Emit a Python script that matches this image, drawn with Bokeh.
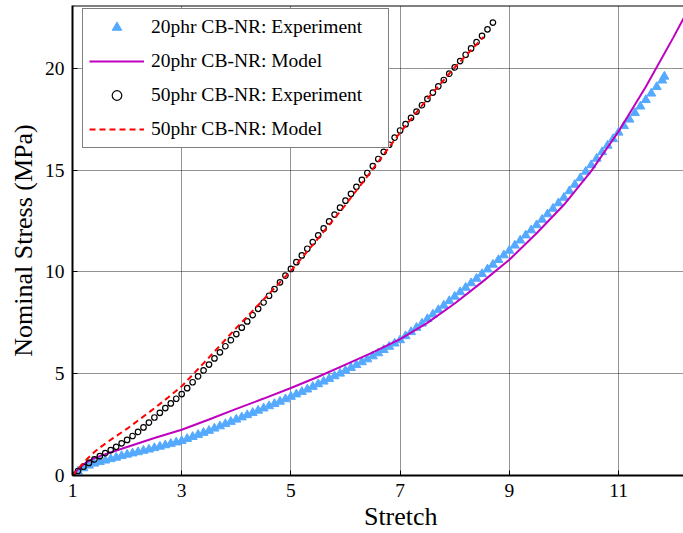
from bokeh.plotting import figure
from bokeh.models import Range1d, FixedTicker, Legend, LegendItem, Span
from bokeh.embed import file_html
from bokeh.resources import INLINE

# ---- data ----
exp20_x = [1.0, 1.1, 1.2, 1.3, 1.4, 1.5, 1.6, 1.7, 1.8, 1.9,
           2.0, 2.1, 2.2, 2.3, 2.4, 2.5, 2.6, 2.7, 2.8, 2.9,
           3.0, 3.1, 3.2, 3.3, 3.4, 3.5, 3.6, 3.7, 3.8, 3.9,
           4.0, 4.1, 4.2, 4.3, 4.4, 4.5, 4.6, 4.7, 4.8, 4.9,
           5.0, 5.1, 5.2, 5.3, 5.4, 5.5, 5.6, 5.7, 5.8, 5.9,
           6.0, 6.1, 6.2, 6.3, 6.4, 6.5, 6.6, 6.7, 6.8, 6.9,
           7.0, 7.1, 7.2, 7.3, 7.4, 7.5, 7.6, 7.7, 7.8, 7.9,
           8.0, 8.1, 8.2, 8.3, 8.4, 8.5, 8.6, 8.7, 8.8, 8.9,
           9.0, 9.1, 9.2, 9.3, 9.4, 9.5, 9.6, 9.7, 9.8, 9.9,
           10.0, 10.1, 10.2, 10.3, 10.4, 10.5, 10.6, 10.7, 10.8, 10.9,
           11.0, 11.1, 11.2, 11.3, 11.4, 11.5, 11.6, 11.7, 11.8, 11.84]
exp20_y = [0.00, 0.20, 0.36, 0.49, 0.59, 0.67, 0.74, 0.81, 0.88, 0.96,
           1.03, 1.09, 1.15, 1.22, 1.28, 1.35, 1.42, 1.49, 1.56, 1.63,
           1.70, 1.80, 1.90, 2.00, 2.10, 2.20, 2.31, 2.42, 2.53, 2.64,
           2.75, 2.86, 2.97, 3.08, 3.19, 3.30, 3.41, 3.52, 3.63, 3.75,
           3.87, 3.99, 4.11, 4.23, 4.36, 4.49, 4.62, 4.75, 4.88, 5.01,
           5.15, 5.29, 5.43, 5.57, 5.71, 5.86, 6.01, 6.17, 6.33, 6.49,
           6.65, 6.85, 7.05, 7.26, 7.47, 7.69, 7.91, 8.13, 8.35, 8.57,
           8.79, 9.01, 9.23, 9.45, 9.67, 9.90, 10.13, 10.36, 10.59, 10.82,
           11.05, 11.30, 11.55, 11.80, 12.05, 12.30, 12.57, 12.84, 13.11, 13.38,
           13.65, 13.97, 14.29, 14.61, 14.93, 15.25, 15.57, 15.89, 16.21, 16.53,
           16.85, 17.17, 17.49, 17.81, 18.13, 18.45, 18.77, 19.09, 19.41, 19.60]

model20_x = [1.0, 1.1, 1.2, 1.3, 1.4, 1.5, 1.75, 2.0, 2.5, 3.0, 3.5, 4.0, 4.5,
             5.0, 5.5, 6.0, 6.5, 7.0, 7.5, 8.0, 8.5, 9.0, 9.5, 10.0, 10.5,
             11.0, 11.5, 12.0, 12.25]
model20_y = [0.0, 0.30, 0.54, 0.72, 0.85, 0.95, 1.18, 1.40, 1.84, 2.25, 2.75, 3.27, 3.78,
             4.30, 4.85, 5.45, 6.05, 6.70, 7.50, 8.45, 9.50, 10.60, 11.90, 13.30, 14.95,
             16.90, 19.10, 21.50, 22.75]

exp50_x = [1.0, 1.1, 1.2, 1.3, 1.4, 1.5, 1.6, 1.7, 1.8, 1.9,
           2.0, 2.1, 2.2, 2.3, 2.4, 2.5, 2.6, 2.7, 2.8, 2.9,
           3.0, 3.1, 3.2, 3.3, 3.4, 3.5, 3.6, 3.7, 3.8, 3.9,
           4.0, 4.1, 4.2, 4.3, 4.4, 4.5, 4.6, 4.7, 4.8, 4.9,
           5.0, 5.1, 5.2, 5.3, 5.4, 5.5, 5.6, 5.7, 5.8, 5.9,
           6.0, 6.1, 6.2, 6.3, 6.4, 6.5, 6.6, 6.7, 6.8, 6.9,
           7.0, 7.1, 7.2, 7.3, 7.4, 7.5, 7.6, 7.7, 7.8, 7.9,
           8.0, 8.1, 8.2, 8.3, 8.4, 8.5, 8.6, 8.7]
exp50_y = [0.00, 0.22, 0.43, 0.62, 0.79, 0.95, 1.10, 1.25, 1.41, 1.58,
           1.75, 1.94, 2.14, 2.36, 2.60, 2.85, 3.08, 3.31, 3.54, 3.77,
           4.00, 4.29, 4.58, 4.87, 5.16, 5.45, 5.75, 6.05, 6.35, 6.65,
           6.95, 7.26, 7.57, 7.88, 8.19, 8.50, 8.83, 9.16, 9.49, 9.82,
           10.15, 10.48, 10.81, 11.14, 11.47, 11.80, 12.14, 12.48, 12.82, 13.16,
           13.50, 13.84, 14.18, 14.52, 14.86, 15.20, 15.55, 15.90, 16.25, 16.60,
           16.95, 17.26, 17.57, 17.88, 18.19, 18.50, 18.81, 19.12, 19.43, 19.74,
           20.05, 20.36, 20.67, 20.98, 21.29, 21.60, 21.92, 22.25]

model50_x = [1.0, 1.1, 1.2, 1.3, 1.4, 1.5, 1.75, 2.0, 2.25, 2.5, 2.75, 3.0, 3.5,
             4.0, 4.5, 5.0, 5.5, 6.0, 6.5, 7.0, 7.5, 8.0, 8.53]
model50_y = [0.0, 0.32, 0.62, 0.90, 1.15, 1.37, 1.85, 2.30, 2.80, 3.30, 3.83, 4.38, 5.80,
             7.25, 8.65, 10.05, 11.65, 13.30, 15.05, 16.85, 18.50, 20.05, 21.55]

x_ticks = [1, 3, 5, 7, 9, 11]
y_ticks = [0, 5, 10, 15, 20]
labels = ["20phr CB-NR: Experiment", "20phr CB-NR: Model",
          "50phr CB-NR: Experiment", "50phr CB-NR: Model"]

FONT = "Liberation Serif"
X_END = 12.19
Y_END = 23.09
BLUE = "#55aaff"

p = figure(width=683, height=533, output_backend="svg", toolbar_location=None,
           x_range=Range1d(1, X_END), y_range=Range1d(0, Y_END),
           min_border_left=72, min_border_right=0, min_border_top=5,
           min_border_bottom=57)
p.outline_line_color = None
p.background_fill_color = "white"
p.border_fill_color = "white"

for ax in (p.xaxis[0], p.yaxis[0]):
    ax.axis_line_width = 2
    ax.axis_line_color = "black"
    ax.major_tick_in = 5
    ax.major_tick_out = 0
    ax.major_tick_line_color = "black"
    ax.minor_tick_line_color = None
    ax.major_label_text_font = FONT
    ax.major_label_text_font_size = "19.5px"
    ax.major_label_text_color = "black"
    ax.axis_label_text_font = FONT
    ax.axis_label_text_font_size = "26px"
    ax.axis_label_text_font_style = "normal"
    ax.axis_label_text_color = "black"

p.xaxis[0].ticker = FixedTicker(ticks=x_ticks)
p.yaxis[0].ticker = FixedTicker(ticks=y_ticks)
p.xaxis[0].major_label_standoff = 8
p.yaxis[0].major_label_standoff = 8
p.yaxis[0].axis_label = "Nominal Stress (MPa)"
p.yaxis[0].axis_label_standoff = 4
# the reference's x label sits under x = 7 (its axes were cropped on the right)
p.xaxis[0].axis_label = "\u00a0" * 7 + "Stretch"
p.xaxis[0].axis_label_standoff = 2

for g in (p.xgrid[0], p.ygrid[0]):
    g.grid_line_color = "black"
    g.grid_line_dash = "1 1"
    g.grid_line_width = 1
    g.grid_line_alpha = 0.85

r_b = p.scatter(exp20_x, exp20_y, marker="triangle", size=9,
                fill_color=BLUE, line_color=BLUE)
r_m = p.line(model20_x, model20_y, line_color="#bf00bf", line_width=2)
r_k = p.scatter(exp50_x, exp50_y, marker="circle", size=5.5, fill_color=None,
                line_color="black", line_width=1.2)
r_r = p.line(model50_x, model50_y, line_color="red", line_width=2, line_dash="6 4")

p.add_layout(Span(location=Y_END, dimension="width", line_color="black", line_width=2))

legend = Legend(items=[LegendItem(label=labels[0], renderers=[r_b]),
                       LegendItem(label=labels[1], renderers=[r_m]),
                       LegendItem(label=labels[2], renderers=[r_k]),
                       LegendItem(label=labels[3], renderers=[r_r])],
                location=(10, 327))
legend.label_text_font = FONT
legend.label_text_font_size = "19.5px"
legend.label_text_color = "black"
legend.padding = 6
legend.spacing = 10
legend.label_height = 24
legend.glyph_height = 24
legend.glyph_width = 55
legend.label_standoff = 7
legend.label_width = 231
legend.border_line_color = "black"
legend.border_line_width = 1.5
legend.background_fill_color = "white"
legend.background_fill_alpha = 1
legend.margin = 0
p.add_layout(legend)

open("out.html", "w").write(file_html(p, INLINE))
